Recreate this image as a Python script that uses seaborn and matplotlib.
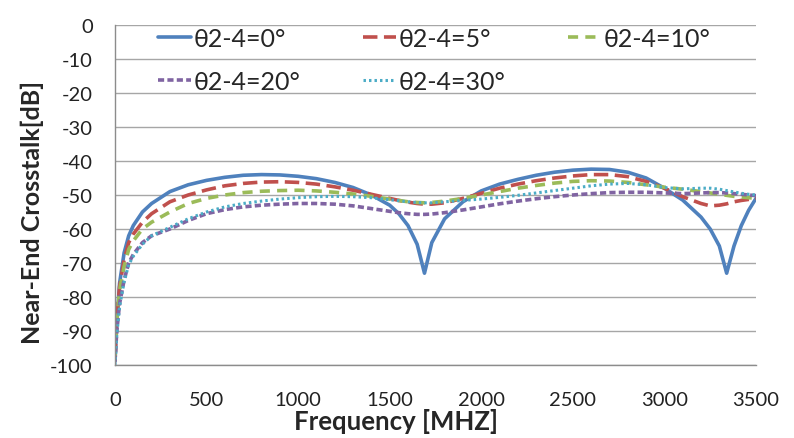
import matplotlib
matplotlib.use("Agg")
import matplotlib.pyplot as plt
import seaborn as sns

# Frequency points in MHz (shared by all series)
freq = [0, 10, 25, 50, 75, 100, 150, 200, 300, 400, 500, 600, 700, 800, 900,
        1000, 1100, 1200, 1300, 1400, 1500, 1550, 1600, 1650, 1690, 1730, 1800,
        1900, 2000, 2100, 2200, 2300, 2400, 2500, 2600, 2700, 2800, 2900, 3000,
        3100, 3200, 3250, 3300, 3340, 3380, 3420, 3460, 3500]

# Near-end crosstalk in dB for each angle
xt_0 = [-99, -88, -76, -67, -62, -59, -55, -52.5, -49, -47, -45.7, -44.8, -44.2, -44, -44.1,
        -44.5, -45.2, -46.3, -47.8, -50, -53, -55.5, -59, -64.5, -73, -64, -57,
        -52, -48.8, -46.8, -45.4, -44.2, -43.3, -42.7, -42.4, -42.5, -43.3, -45, -48,
        -51.5, -56.5, -60, -65, -73, -65, -59, -54.5, -51]
xt_5 = [-98, -86, -77, -69, -64, -61.5, -58, -55.5, -52, -50, -48.5, -47.3, -46.6, -46.2, -46.1,
        -46.3, -46.8, -47.6, -48.6, -49.8, -51, -51.6, -52.1, -52.5, -52.7, -52.7, -52.3,
        -51, -49.5, -48, -46.8, -45.8, -45, -44.4, -44, -44, -44.6, -46, -48,
        -50.5, -52.5, -53.2, -53, -52.6, -52, -51.6, -51.3, -51]
xt_10 = [-98, -87, -78, -71, -66, -63.5, -60, -58, -55, -52.5, -51, -50, -49.3, -48.9, -48.7,
         -48.6, -48.8, -49.2, -49.7, -50.4, -51.2, -51.6, -52, -52.2, -52.3, -52.2, -51.8,
         -51, -50, -49, -48, -47.2, -46.5, -46, -45.8, -45.9, -46.3, -47, -47.7,
         -48.3, -49, -49.4, -49.8, -50.1, -50.4, -50.6, -50.8, -51]
xt_20 = [-99, -90, -82, -75, -70, -67.5, -64, -62, -60, -57.5, -55.5, -54.3, -53.5, -53, -52.7,
         -52.5, -52.5, -52.7, -53.2, -54, -54.8, -55.2, -55.5, -55.7, -55.7, -55.6, -55.2,
         -54.4, -53.5, -52.6, -51.8, -51.1, -50.5, -50, -49.6, -49.3, -49.2, -49.2, -49.4,
         -49.6, -49.4, -49.3, -49.3, -49.4, -49.6, -49.8, -50, -50.2]
xt_30 = [-100, -91, -83, -75.5, -70.5, -68, -64.5, -62, -59.5, -57, -55, -53.5, -52.5, -51.8, -51.2,
         -50.8, -50.5, -50.4, -50.5, -50.8, -51.4, -51.7, -52, -52.2, -52.3, -52.3, -52,
         -51.6, -51.2, -50.7, -50.1, -49.4, -48.7, -48, -47.3, -46.8, -46.6, -47, -47.8,
         -48.2, -48, -48, -48.3, -48.7, -49.1, -49.5, -49.8, -50]

labels = ["θ2-4=0°", "θ2-4=5°", "θ2-4=10°", "θ2-4=20°", "θ2-4=30°"]

sns.set_style("white")
plt.rcParams['font.family'] = ['Lato', 'DejaVu Sans']
plt.rcParams['axes.unicode_minus'] = False

fig = plt.figure(figsize=(7.94, 4.39), dpi=100)
ax = fig.add_axes([0.1448, 0.1663, 0.8073, 0.7745])

series = [
    (xt_0, "#4F81BD", "-", 2.6),
    (xt_5, "#C0504D", (0, (4, 1.8)), 2.6),
    (xt_10, "#9BBB59", (0, (2.8, 2)), 2.6),
    (xt_20, "#8064A2", (0, (1.7, 0.9)), 2.6),
    (xt_30, "#4BACC6", (0, (0.8, 1)), 2.2),
]
for (vals, color, ls, lw), lab in zip(series, labels):
    sns.lineplot(x=freq, y=vals, ax=ax, color=color, linestyle=ls, linewidth=lw, label=lab)

ax.set_xlim(0, 3500)
ax.set_ylim(-100, 0)
ax.set_xticks(range(0, 3501, 500))
ax.set_yticks(range(-100, 1, 10))
ax.grid(axis='y', color='#a6a6a6', linewidth=1)
ax.grid(axis='x', visible=False)
ax.set_axisbelow(True)
for side in ['top', 'right']:
    ax.spines[side].set_visible(False)
for side in ['left', 'bottom']:
    ax.spines[side].set_color('#8c8c8c')
    ax.spines[side].set_linewidth(1)
ax.tick_params(axis='both', labelsize=14.5, colors='#222222', length=6, color='#8c8c8c', direction='out')
ax.tick_params(axis='x', pad=13)
ax.tick_params(axis='y', pad=10)

# Excel centres the axis titles on the chart area, not the plot area
ax.set_xlabel("Frequency [MHZ]", fontsize=18.5, fontweight='bold')
ax.set_ylabel("Near-End Crosstalk[dB]", fontsize=18, fontweight='bold')
ax.xaxis.set_label_coords(0.438, -0.163)
ax.xaxis.label.set_va('center')
ax.yaxis.set_label_coords(-0.129, 0.453)
ax.yaxis.label.set_va('center')

# legend row-wise: reorder handles for column-major fill
handles, labs = ax.get_legend_handles_labels()
order = [0, 3, 1, 4, 2]
ax.legend([handles[i] for i in order], [labs[i] for i in order], ncol=3,
          loc='upper left', bbox_to_anchor=(158 / 794, 1 - 28 / 439),
          bbox_transform=fig.transFigure, frameon=False,
          fontsize=18, handlelength=1.32, handletextpad=0.1, columnspacing=2.5,
          labelspacing=0.78, borderaxespad=0, borderpad=0)

fig.savefig("out.png", dpi=100)
